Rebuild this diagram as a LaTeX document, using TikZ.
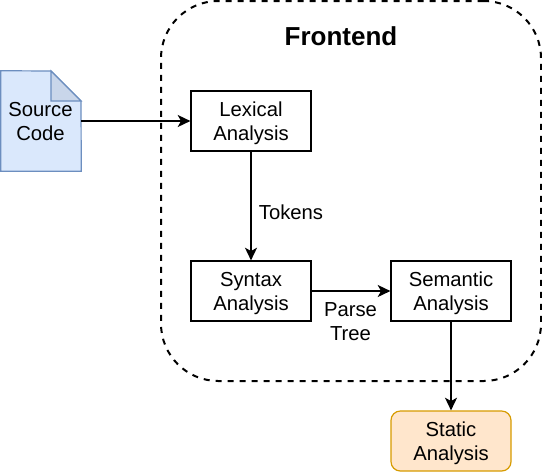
\documentclass[tikz,border=0pt]{standalone}
\usepackage{fontspec}
\setmainfont{Liberation Sans}
\usetikzlibrary{arrows.meta}
\definecolor{docfill}{HTML}{DAE8FC}
\definecolor{docfold}{HTML}{C9D6EA}
\definecolor{docline}{HTML}{6C8EBF}
\definecolor{staticfill}{HTML}{FFE6CC}
\definecolor{staticline}{HTML}{D79B00}
\tikzset{
    label text/.style={font=\fontsize{15.2}{18}\selectfont, align=center, text depth=0pt},
    phase/.style={label text, draw, line width=0.9pt, minimum width=90pt, minimum height=45pt, inner sep=0pt},
    flow/.style={-{Stealth[length=9.5pt, width=9pt, inset=2.5pt]}, line width=1.5pt},
}
\begin{document}
\begin{tikzpicture}[x=0.75pt, y=-0.75pt]
    \useasboundingbox (0,0) rectangle (542,472);

    % Frontend region
    \node[draw, line width=1.5pt, dash pattern=on 4.5pt off 4.5pt, rounded corners=43pt, minimum width=285pt, minimum height=285pt, inner sep=0pt] (frontend) at (351,191) {};
    \node[font=\bfseries\fontsize{19.5}{23}\selectfont] (title) at (341,36) {Frontend};

    % Source document
    \node[minimum width=60pt, minimum height=75pt, inner sep=0pt] (source) at (41,121) {};
    \draw[line width=0.9pt, draw=docline, fill=docfill] (source.north west) -- (51,71) -- (81,101) -- (source.south east) -- (source.south west) -- cycle;
    \draw[line width=0.9pt, draw=docline, fill=docfold] (51,71) -- (81,101) -- (51,101) -- cycle;
    \node[label text] (sourcetext) at (40.5,121) {Source\\Code};

    % Phases
    \node[phase] (lexical) at (251,121) {Lexical\\Analysis};
    \node[phase] (syntax) at (251,291) {Syntax\\Analysis};
    \node[phase] (semantic) at (451,291) {Semantic\\Analysis};
    \node[phase, draw=staticline, fill=staticfill, rounded corners=7pt] (static) at (451,441) {Static\\Analysis};

    % Connectors
    \draw[flow] (source.east) -- (lexical.west);
    \draw[flow] (lexical.south) -- (syntax.north);
    \draw[flow] (syntax.east) -- (semantic.west);
    \draw[flow] (semantic.south) -- (static.north);

    % Edge labels
    \node[label text] (tokens) at (291,212) {Tokens};
    \node[label text] (parsetree) at (350.5,322) {Parse\\Tree};
\end{tikzpicture}
\end{document}
